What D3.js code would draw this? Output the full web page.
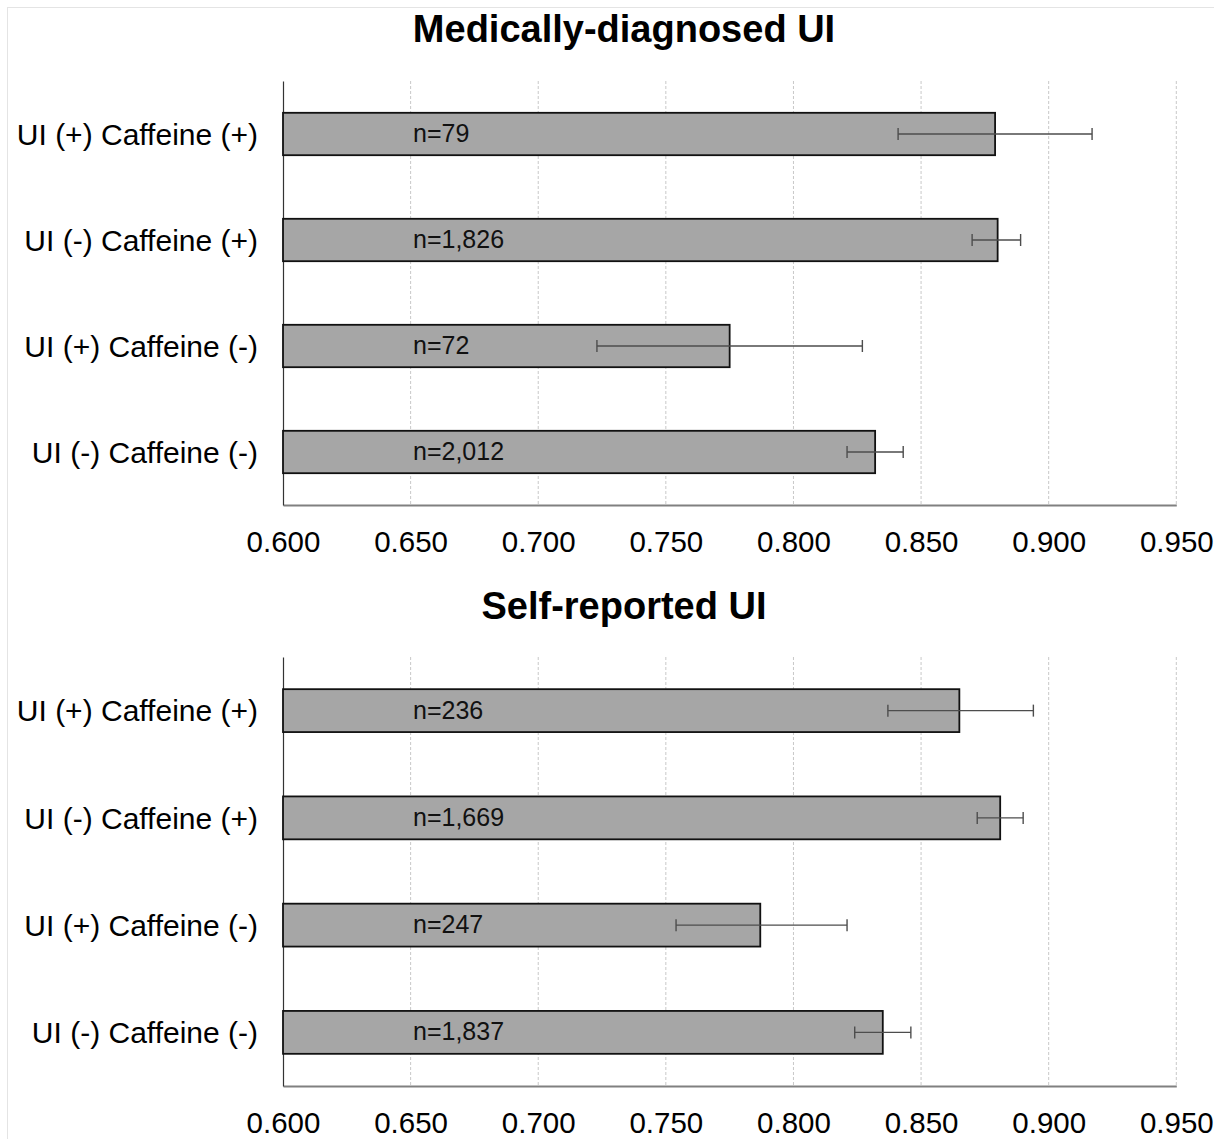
<!DOCTYPE html>
<html>
<head>
<meta charset="utf-8">
<script src="https://cdn.jsdelivr.net/npm/d3@7"></script>
<style>
  html, body { margin: 0; padding: 0; background: #fff; }
  svg { display: block; font-family: "Liberation Sans", Arial, sans-serif; }
</style>
</head>
<body>
<svg id="chart" width="1214" height="1139"></svg>
<script>
// ---- data ----
const categories = ["UI (+) Caffeine (+)", "UI (-) Caffeine (+)", "UI (+) Caffeine (-)", "UI (-) Caffeine (-)"];
const xTicks = [0.600, 0.650, 0.700, 0.750, 0.800, 0.850, 0.900, 0.950];

const titleMedical = "Medically-diagnosed UI";
const medicalMean  = [0.879, 0.880, 0.775, 0.832];
const medicalLower = [0.841, 0.870, 0.723, 0.821];
const medicalUpper = [0.917, 0.889, 0.827, 0.843];
const medicalN     = ["n=79", "n=1,826", "n=72", "n=2,012"];

const titleSelf = "Self-reported UI";
const selfMean  = [0.865, 0.881, 0.787, 0.835];
const selfLower = [0.837, 0.872, 0.754, 0.824];
const selfUpper = [0.894, 0.890, 0.821, 0.846];
const selfN     = ["n=236", "n=1,669", "n=247", "n=1,837"];

// ---- drawing ----
const svg = d3.select("#chart");

// faint frame
svg.append("line").attr("x1", 7).attr("x2", 1214).attr("y1", 7.5).attr("y2", 7.5)
  .attr("stroke", "#e4e4e4").attr("stroke-width", 1);
svg.append("line").attr("x1", 7.5).attr("x2", 7.5).attr("y1", 7).attr("y2", 1139)
  .attr("stroke", "#e4e4e4").attr("stroke-width", 1);

const x = d3.scaleLinear().domain([0.600, 0.950]).range([283, 1176.3]);

function panel(opts) {
  const { title, titleY, top, bottom, mean, lower, upper, nLabels } = opts;
  const g = svg.append("g");
  const y = d3.scaleBand().domain(categories).range([top, bottom]).padding(0);
  const bw = y.bandwidth();
  const barH = bw * 0.4;

  // title
  g.append("text").attr("x", 624).attr("y", titleY)
    .attr("text-anchor", "middle").attr("font-weight", "bold")
    .attr("font-size", 38).attr("fill", "#000").text(title);

  // gridlines
  g.append("g").selectAll("line").data(xTicks.slice(1)).join("line")
    .attr("x1", d => x(d)).attr("x2", d => x(d))
    .attr("y1", top).attr("y2", bottom)
    .attr("stroke", "#c8c8c8").attr("stroke-width", 1)
    .attr("stroke-dasharray", "3,2");

  // x axis
  const xAxis = d3.axisBottom(x).tickValues(xTicks).tickFormat(d3.format(".3f"))
    .tickSize(0).tickPadding(0);
  const ax = g.append("g").attr("transform", `translate(0,${bottom})`).call(xAxis);
  ax.select(".domain").attr("stroke", "#808080").attr("stroke-width", 2);
  ax.selectAll("text").attr("font-size", 29.5).attr("fill", "#000")
    .attr("dy", null).attr("y", 47).attr("font-family", "Liberation Sans, Arial, sans-serif");

  // y axis
  const yAxis = d3.axisLeft(y).tickSize(0).tickPadding(25);
  const ay = g.append("g").attr("transform", `translate(${x(0.6)},0)`).call(yAxis);
  ay.select(".domain").attr("stroke", "#333").attr("stroke-width", 1.2);
  ay.selectAll("text").attr("font-size", 30).attr("fill", "#000")
    .attr("dy", "0.36em").attr("font-family", "Liberation Sans, Arial, sans-serif");

  const rows = categories.map((c, i) => ({ c, m: mean[i], lo: lower[i], hi: upper[i], n: nLabels[i] }));

  // bars
  g.append("g").selectAll("rect").data(rows).join("rect")
    .attr("x", x(0.6))
    .attr("y", d => y(d.c) + (bw - barH) / 2)
    .attr("width", d => x(d.m) - x(0.6))
    .attr("height", barH)
    .attr("fill", "#a6a6a6").attr("stroke", "#111").attr("stroke-width", 1.8);

  // n labels
  g.append("g").selectAll("text").data(rows).join("text")
    .attr("x", 413).attr("y", d => y(d.c) + bw / 2 + 8)
    .attr("font-size", 25).attr("fill", "#111").text(d => d.n);

  // error bars
  const eb = g.append("g").attr("stroke", "#4d4d4d").attr("stroke-width", 1.4);
  eb.selectAll("line.h").data(rows).join("line").attr("class", "h")
    .attr("x1", d => x(d.lo)).attr("x2", d => x(d.hi))
    .attr("y1", d => y(d.c) + bw / 2).attr("y2", d => y(d.c) + bw / 2);
  eb.selectAll("line.l").data(rows).join("line").attr("class", "l")
    .attr("x1", d => x(d.lo)).attr("x2", d => x(d.lo))
    .attr("y1", d => y(d.c) + bw / 2 - 6).attr("y2", d => y(d.c) + bw / 2 + 6);
  eb.selectAll("line.r").data(rows).join("line").attr("class", "r")
    .attr("x1", d => x(d.hi)).attr("x2", d => x(d.hi))
    .attr("y1", d => y(d.c) + bw / 2 - 6).attr("y2", d => y(d.c) + bw / 2 + 6);
}

panel({ title: titleMedical, titleY: 42, top: 81, bottom: 505,
        mean: medicalMean, lower: medicalLower, upper: medicalUpper, nLabels: medicalN });
panel({ title: titleSelf, titleY: 619, top: 657, bottom: 1086,
        mean: selfMean, lower: selfLower, upper: selfUpper, nLabels: selfN });
</script>
</body>
</html>
